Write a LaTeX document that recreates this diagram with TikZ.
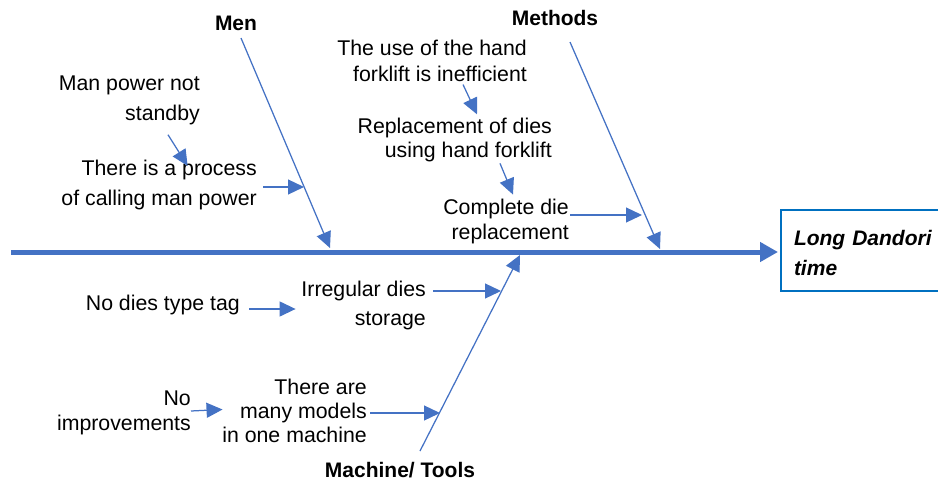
\documentclass[tikz,border=0pt]{standalone}
\usepackage{fontspec}
\setmainfont{Liberation Sans}
\usetikzlibrary{arrows.meta}
\definecolor{bl}{HTML}{4472C4}
\definecolor{boxbl}{HTML}{0070C0}
\begin{document}
\begin{tikzpicture}[x=1pt,y=-1pt,
  txt/.style={inner sep=0pt, align=right, anchor=east},
  cat/.style={font=\fontsize{21}{25}\selectfont\bfseries, inner sep=0pt},
  arr/.style={draw=bl, line width=1.25pt, -{Triangle[length=16pt,width=15pt]}},
  spine/.style={draw=bl, line width=5pt, -{Triangle[length=18pt,width=19pt]}}]
\useasboundingbox (0,0) rectangle (938,482);

% category labels
\node[cat] (men)  at (236,23)  {Men};
\node[cat] (meth) at (555,18)  {Methods};
\node[cat] (mach) at (400,470) {Machine/ Tools};

% effect box
\node[draw=boxbl, line width=2pt, anchor=north west, minimum height=81pt,
      text width=150pt, inner xsep=13pt, align=left,
      font=\fontsize{21}{30}\selectfont\bfseries\itshape] (eff) at (780,209)
      {\rule{0pt}{20pt}Long Dandori\\time};

% cause texts
\node[txt, font=\fontsize{21.3}{30}\selectfont] (mp)   at (200,100)   {Man power not\\standby};
\node[txt, font=\fontsize{21.3}{30}\selectfont] (proc) at (257,185)   {There is a process\\of calling man power};
\node[txt, font=\fontsize{21.3}{26}\selectfont] (use)  at (527,61)    {The use of the hand\\forklift is inefficient};
\node[txt, font=\fontsize{21.3}{24.5}\selectfont] (repl) at (552,140) {Replacement of dies\\using hand forklift};
\node[txt, font=\fontsize{21.3}{25}\selectfont] (comp) at (569,221.5) {Complete die\\replacement};
\node[txt, font=\fontsize{21.3}{25}\selectfont] (tag)  at (240,305)   {No dies type tag};
\node[txt, font=\fontsize{21.3}{29}\selectfont] (irr)  at (426,305.5) {Irregular dies\\storage};
\node[txt, font=\fontsize{21.3}{25}\selectfont] (noimp) at (191,412.5) {No\\improvements};
\node[txt, font=\fontsize{21.3}{24}\selectfont] (many) at (367,411)   {There are\\many models\\in one machine};

% spine
\coordinate (sp0) at (11,252);
\draw[spine, shorten >=2pt] (sp0) -- (eff.west |- sp0);

% bones
\coordinate (menA)  at (241,38);
\coordinate (menB)  at (330,248);
\coordinate (methA) at (570,42);
\coordinate (methB) at (660,249);
\coordinate (machA) at (420,451);
\coordinate (machB) at (520,255);
\draw[arr] (menA) -- (menB);
\draw[arr] (methA) -- (methB);
\draw[arr] (machA) -- (machB);

% bone entry points
\coordinate (pe) at (304,187);
\coordinate (ce) at (642,215);
\coordinate (ie) at (501,291);
\coordinate (ne) at (440,413);

% cause arrows
\draw[arr] ([shift={(-32,10)}]mp.south east) -- ([shift={(28.5,6)}]proc.north);
\draw[arr] ([shift={(6,2)}]proc.east) -- (pe);
\draw[arr] ([shift={(-64,2.5)}]use.south east) -- ([shift={(-75,-3.3)}]repl.north east);
\draw[arr] ([shift={(-52,1)}]repl.south east) -- ([shift={(-56,-4.3)}]comp.north east);
\draw[arr] ([shift={(1,-6.5)}]comp.east) -- (ce);
\draw[arr] ([shift={(9,4)}]tag.east) -- ([shift={(-5.7,3.5)}]irr.west);
\draw[arr] ([shift={(7,-14.5)}]irr.east) -- (ie);
\draw[arr] ([shift={(0,-1.5)}]noimp.east) -- ([shift={(0.4,-1.5)}]many.west);
\draw[arr] ([shift={(3,2)}]many.east) -- (ne);
\end{tikzpicture}
\end{document}
